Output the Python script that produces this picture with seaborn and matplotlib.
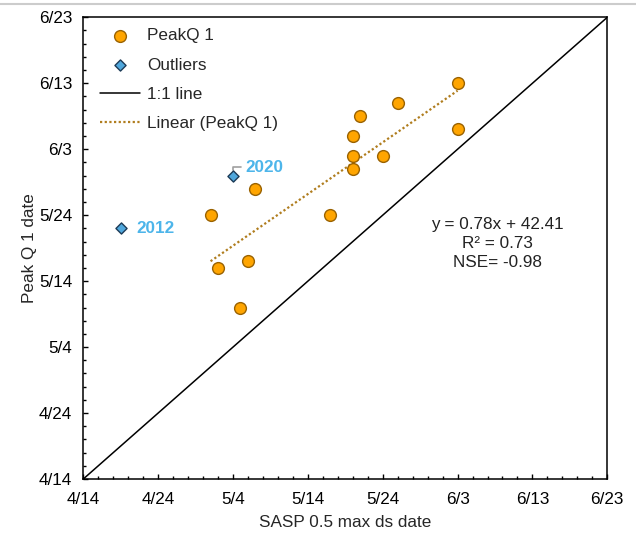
import numpy as np
import pandas as pd
import matplotlib
matplotlib.use("Agg")
import matplotlib.pyplot as plt
import matplotlib.dates as mdates
from matplotlib.lines import Line2D
from matplotlib.ticker import FixedLocator
import seaborn as sns

sns.set_style("ticks")
plt.rcParams['font.family'] = ['Liberation Sans', 'DejaVu Sans']

YEAR = 2021

# 数据：SASP 0.5 max ds date 与 Peak Q 1 date
sasp_dates = ['6/3', '5/26', '5/21', '5/20', '6/3', '5/20', '5/24', '5/20',
              '5/7', '5/1', '5/17', '5/2', '5/6', '5/5']
peak_dates = ['6/13', '6/10', '6/8', '6/5', '6/6', '6/2', '6/2', '5/31',
              '5/28', '5/24', '5/24', '5/16', '5/17', '5/10']

outlier_sasp = ['5/4', '4/19']
outlier_peak = ['5/30', '5/22']
outlier_years = ['2020', '2012']

tick_labels = ['4/14', '4/24', '5/4', '5/14', '5/24', '6/3', '6/13', '6/23']

eq_text = 'y = 0.78x + 42.41\nR² = 0.73\nNSE= -0.98'


def to_date(lst):
    return pd.to_datetime([f'{YEAR}/{s}' for s in lst], format='%Y/%m/%d')


df = pd.DataFrame({'sasp': to_date(sasp_dates), 'peak': to_date(peak_dates)})
out = pd.DataFrame({'sasp': to_date(outlier_sasp), 'peak': to_date(outlier_peak),
                    'year': outlier_years})
ticks = to_date(tick_labels)

fig = plt.figure(figsize=(6.36, 5.37), dpi=100)
ax = fig.add_axes([83.3 / 636, 1 - 479 / 537, 524 / 636, 461.7 / 537])

orange = '#FFA500'
orange_edge = '#9A6200'
blue = '#4FA7DC'
blue_edge = '#1D3B57'
label_blue = '#4DB5EA'
trend_col = '#B07D1E'

sns.scatterplot(data=df, x='sasp', y='peak', ax=ax, s=72, color=orange,
                edgecolor=orange_edge, linewidth=1.0, label='PeakQ 1', zorder=4)
sns.scatterplot(data=out, x='sasp', y='peak', ax=ax, s=32, marker='D', color=blue,
                edgecolor=blue_edge, linewidth=1.0, label='Outliers', zorder=4)

# 1:1 线
ax.plot([ticks[0], ticks[-1]], [ticks[0], ticks[-1]], color='black', lw=1.1,
        label='1:1 line', zorder=2)

# 线性趋势
xn = mdates.date2num(df['sasp'])
yn = mdates.date2num(df['peak'])
k, b = np.polyfit(xn, yn, 1)
xx = np.array([xn.min(), xn.max()])
ax.plot(mdates.num2date(xx), mdates.num2date(k * xx + b), color=trend_col, lw=1.6,
        linestyle=(0, (1, 1.1)), label='Linear (PeakQ 1)', zorder=3)

# 离群点年份标注
for i, r in out.iterrows():
    if r['year'] == '2020':
        ax.annotate(r['year'], xy=(r['sasp'], r['peak']), xytext=(9, 6),
                    textcoords='offset points', va='center', ha='left',
                    fontsize=12.3, fontweight='bold', color=label_blue,
                    arrowprops=dict(arrowstyle='-', color='#A0A0A0', lw=1.2,
                                    connectionstyle='angle,angleA=180,angleB=90,rad=0',
                                    shrinkA=1, shrinkB=4))
    else:
        ax.annotate(r['year'], xy=(r['sasp'], r['peak']), xytext=(11, 0),
                    textcoords='offset points', va='center', ha='left',
                    fontsize=12.3, fontweight='bold', color=label_blue)

ax.text(0.79, 0.51, eq_text, transform=ax.transAxes, ha='center', va='center',
        fontsize=12.3, linespacing=1.3, color='#222222')

ax.set_xlim(ticks[0], ticks[-1])
ax.set_ylim(ticks[0], ticks[-1])
ax.set_xticks(ticks)
ax.set_xticklabels(tick_labels)
ax.set_yticks(ticks)
ax.set_yticklabels(tick_labels)
minor = pd.date_range(ticks[0], ticks[-1], freq='2D')
ax.xaxis.set_minor_locator(FixedLocator(mdates.date2num(minor)))
ax.yaxis.set_minor_locator(FixedLocator(mdates.date2num(minor)))
ax.tick_params(which='both', direction='in', width=1, colors='black',
               labelsize=12.3, top=False, right=False)
ax.tick_params(which='major', length=3.5)
ax.tick_params(which='minor', length=2.5)
ax.tick_params(axis='x', pad=9)
ax.tick_params(axis='y', pad=8)
for sp in ax.spines.values():
    sp.set_visible(True)
    sp.set_linewidth(1.1)
    sp.set_color('black')

ax.set_xlabel('SASP 0.5 max ds date', fontsize=12.3, labelpad=6)
ax.set_ylabel('Peak Q 1 date', fontsize=12.3)
ax.yaxis.set_label_coords(-0.089, 0.5)

handles, labels = ax.get_legend_handles_labels()
order = ['PeakQ 1', 'Outliers', '1:1 line', 'Linear (PeakQ 1)']
hmap = dict(zip(labels, handles))
ax.legend([hmap[o] for o in order], order, loc='upper left',
          bbox_to_anchor=(0.0187, 0.991), borderaxespad=0, frameon=False,
          fontsize=12.3, handlelength=2.35, handletextpad=0.4, labelspacing=0.84)

fig.add_artist(Line2D([0, 1], [1 - 4 / 537, 1 - 4 / 537], color='#CCCCCC', lw=1.5))

fig.savefig('out.png', dpi=100)
